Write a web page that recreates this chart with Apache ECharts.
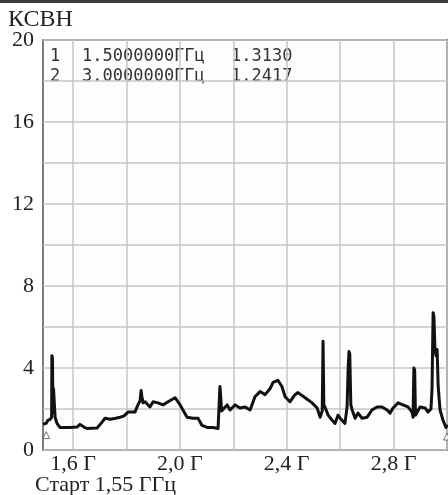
<!DOCTYPE html>
<html>
<head>
<meta charset="utf-8">
<script src="https://cdn.jsdelivr.net/npm/echarts@6/dist/echarts.min.js"></script>
<style>
  html, body { margin: 0; padding: 0; background: #fff; }
  #chart { width: 448px; height: 495px; }
</style>
</head>
<body>
<div id="chart"></div>
<script>
// частота, ГГц
const freq = [
  1.488, 1.500, 1.506, 1.515, 1.520, 1.521, 1.523, 1.525, 1.527, 1.531, 1.533, 1.540, 1.551,
  1.589, 1.615, 1.626, 1.641, 1.652, 1.690, 1.705, 1.720, 1.739, 1.760, 1.776, 1.790, 1.806,
  1.832, 1.843, 1.851, 1.855, 1.858, 1.862, 1.870, 1.888, 1.900, 1.918, 1.937, 1.956, 1.982,
  2.001, 2.027, 2.049, 2.068, 2.083, 2.102, 2.124, 2.143, 2.147, 2.150, 2.153, 2.156, 2.162,
  2.177, 2.188, 2.207, 2.225, 2.244, 2.263, 2.281, 2.300, 2.319, 2.338, 2.349, 2.367, 2.382,
  2.394, 2.412, 2.431, 2.442, 2.469, 2.495, 2.514, 2.525, 2.533, 2.536, 2.539, 2.543, 2.555,
  2.570, 2.581, 2.592, 2.600, 2.618, 2.626, 2.630, 2.633, 2.636, 2.640, 2.645, 2.656, 2.667,
  2.682, 2.701, 2.719, 2.738, 2.757, 2.776, 2.787, 2.798, 2.817, 2.835, 2.854, 2.869, 2.873,
  2.876, 2.879, 2.882, 2.888, 2.899, 2.918, 2.929, 2.940, 2.944, 2.948, 2.951, 2.955, 2.959,
  2.963, 2.967, 2.974, 2.985, 2.996, 3.000
]
// КСВН
const vswr = [
  1.25, 1.31, 1.45, 1.5, 1.6, 4.6, 4.5, 1.8, 3.0, 3.0, 1.6, 1.3, 1.1,
  1.1, 1.12, 1.25, 1.12, 1.05, 1.07, 1.3, 1.55, 1.5, 1.55, 1.6, 1.65, 1.85,
  1.85, 2.2, 2.4, 2.9, 2.6, 2.3, 2.35, 2.1, 2.35, 2.3, 2.2, 2.35, 2.55,
  2.2, 1.6, 1.55, 1.55, 1.2, 1.1, 1.1, 1.05, 1.1, 3.1, 2.6, 1.9, 1.95,
  2.2, 1.95, 2.2, 2.05, 2.1, 1.95, 2.6, 2.85, 2.7, 3.0, 3.3, 3.4, 3.1,
  2.6, 2.35, 2.7, 2.8, 2.55, 2.3, 2.05, 1.6, 1.9, 5.3, 2.2, 2.1, 1.7,
  1.45, 1.3, 1.7, 1.55, 1.3, 2.1, 4.0, 4.8, 4.7, 2.2, 1.95, 1.55, 1.8,
  1.55, 1.6, 1.95, 2.1, 2.1, 1.95, 1.8, 2.05, 2.3, 2.2, 2.1, 1.85, 1.6,
  4.0, 3.9, 1.7, 1.75, 2.1, 2.05, 1.85, 2.0, 3.0, 6.7, 6.5, 4.9, 4.6,
  4.9, 3.1, 1.95, 1.45, 1.1, 1.24
]
const gridFreq = [1.6, 1.8, 2.0, 2.2, 2.4, 2.6, 2.8, 3.0]
const labelFreq = [1.6, 2.0, 2.4, 2.8]
const markerFreq = [1.5, 3.0]
const markerVal = [1.3130, 1.2417]

const serif = '"Liberation Serif", "DejaVu Serif", serif'
const mono = '"DejaVu Sans Mono", "Liberation Mono", monospace'

const chart = echarts.init(document.getElementById('chart'))

const tableText = []
markerFreq.forEach((f, i) => {
  const y = 48 + i * 20
  tableText.push(
    { type: 'text', left: 50, top: y, style: { text: String(i + 1), font: '17px ' + mono, fill: '#333' } },
    { type: 'text', left: 82, top: y, style: { text: f.toFixed(7) + 'ГГц', font: '17px ' + mono, fill: '#333' } },
    { type: 'text', left: 231, top: y, style: { text: markerVal[i].toFixed(4), font: '17px ' + mono, fill: '#333' } }
  )
})

const option = {
  backgroundColor: '#fff',
  animation: false,
  grid: {
    left: 43, right: 1, top: 40, bottom: 45,
    show: true,
    borderColor: '#7d7d7d',
    borderWidth: 2,
    backgroundColor: '#fdfdfd'
  },
  xAxis: {
    type: 'value',
    min: 1.4877,
    max: 3.0,
    axisLine: { show: false },
    axisTick: { show: false, customValues: gridFreq },
    splitLine: { show: true, lineStyle: { color: '#c6c6c6', width: 1.5 } },
    axisLabel: {
      customValues: labelFreq,
      margin: 3,
      color: '#222',
      fontFamily: serif,
      fontSize: 22,
      formatter: v => v.toFixed(1).replace('.', ',') + ' Г'
    }
  },
  yAxis: {
    type: 'value',
    min: 0,
    max: 20,
    interval: 2,
    axisLine: { show: false },
    axisTick: { show: false },
    splitLine: { show: true, lineStyle: { color: '#c6c6c6', width: 1.5 } },
    axisLabel: {
      margin: 9,
      color: '#222',
      fontFamily: serif,
      fontSize: 22,
      formatter: v => (v % 4 === 0 ? String(v) : '')
    }
  },
  series: [
    {
      type: 'line',
      data: freq.map((f, i) => [f, vswr[i]]),
      showSymbol: false,
      lineStyle: { color: '#111', width: 3, join: 'round' },
      z: 3
    },
    {
      type: 'scatter',
      data: markerFreq.map((f, i) => [f, markerVal[i]]),
      symbol: 'triangle',
      symbolSize: 7,
      symbolOffset: [0, 12],
      itemStyle: { color: '#fff', borderColor: '#555', borderWidth: 1 },
      z: 4
    }
  ],
  graphic: [
    { type: 'rect', shape: { x: 0, y: 0, width: 448, height: 3 }, style: { fill: '#3c3c3c' } },
    { type: 'text', left: 8, top: 8, style: { text: 'КСВН', font: '24px ' + serif, fill: '#222' } },
    { type: 'text', left: 35, top: 474, style: { text: 'Старт 1,55 ГГц', font: '22px ' + serif, fill: '#222' } }
  ].concat(tableText)
}
chart.setOption(option)
</script>
</body>
</html>
